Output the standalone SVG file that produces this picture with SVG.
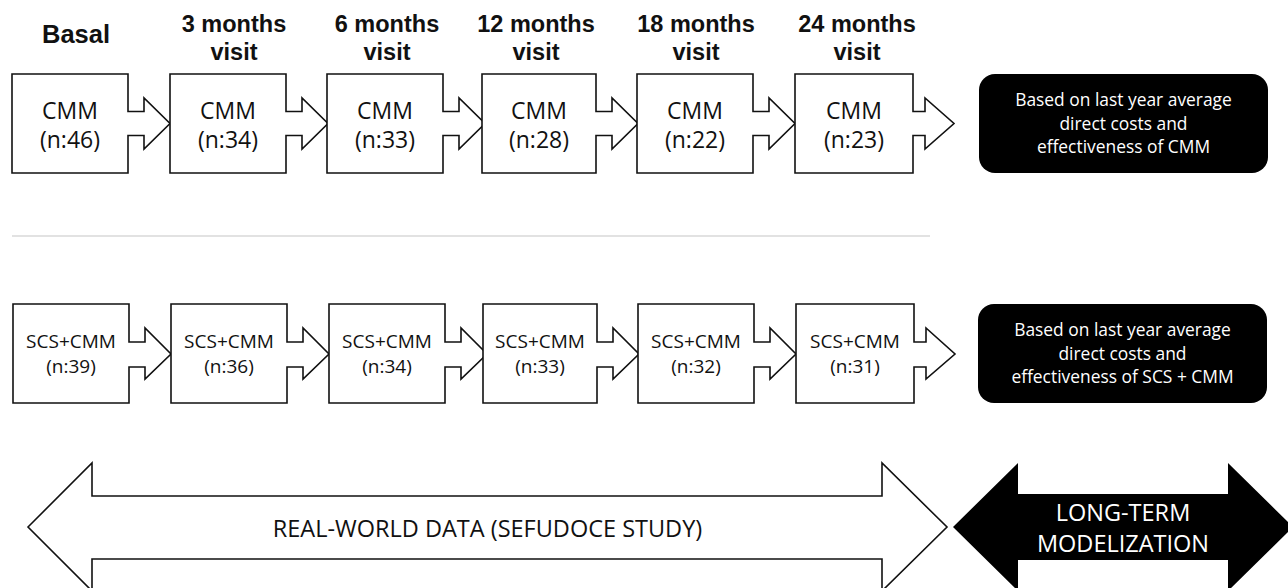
<svg xmlns="http://www.w3.org/2000/svg" width="1288" height="588" viewBox="0 0 1288 588">
<style>
.hdr{font-family:"Liberation Sans",Arial,sans-serif;font-weight:bold;font-size:23.5px;fill:#111;text-anchor:middle}
.box{fill:#fff;stroke:#111;stroke-width:1.6;stroke-linejoin:miter}
.t1{font-family:"Open Sans","Noto Sans",sans-serif;font-size:23px;fill:#111;text-anchor:middle}
.t2{font-family:"Open Sans","Noto Sans",sans-serif;font-size:19px;fill:#111;text-anchor:middle}
.blk{fill:#000}
.wt{font-family:"Open Sans","Noto Sans",sans-serif;font-size:17.4px;fill:#fff;text-anchor:middle}
.big{font-family:"Open Sans","Noto Sans",sans-serif;font-size:23.5px;text-anchor:middle}
</style>
<g id="headers">
<text class="hdr" x="76" y="43" style="font-size:25.5px">Basal</text>
<text class="hdr" x="234" y="32">3 months</text><text class="hdr" x="234" y="60">visit</text>
<text class="hdr" x="387" y="32">6 months</text><text class="hdr" x="387" y="60">visit</text>
<text class="hdr" x="536" y="32">12 months</text><text class="hdr" x="536" y="60">visit</text>
<text class="hdr" x="696" y="32">18 months</text><text class="hdr" x="696" y="60">visit</text>
<text class="hdr" x="857" y="32">24 months</text><text class="hdr" x="857" y="60">visit</text>
</g>
<g id="separator"><line x1="12" y1="236" x2="930" y2="236" stroke="#d9d9d9" stroke-width="1.5"/></g>
<g id="row1">
<g id="cmm-basal"><path class="box" d="M12,74 H128 V111.5 H144 V98 L170,123.5 L144,149 V135.5 H128 V173 H12 Z"/><text class="t1" x="70" y="119">CMM</text><text class="t1" x="70" y="148">(n:46)</text></g>
<g id="cmm-3"><path class="box" d="M170,74 H286 V111.5 H302 V98 L328,123.5 L302,149 V135.5 H286 V173 H170 Z"/><text class="t1" x="228" y="119">CMM</text><text class="t1" x="228" y="148">(n:34)</text></g>
<g id="cmm-6"><path class="box" d="M327,74 H443 V111.5 H459 V98 L485,123.5 L459,149 V135.5 H443 V173 H327 Z"/><text class="t1" x="385" y="119">CMM</text><text class="t1" x="385" y="148">(n:33)</text></g>
<g id="cmm-12"><path class="box" d="M482,74 H596 V111.5 H612 V98 L638,123.5 L612,149 V135.5 H596 V173 H482 Z"/><text class="t1" x="539" y="119">CMM</text><text class="t1" x="539" y="148">(n:28)</text></g>
<g id="cmm-18"><path class="box" d="M637,74 H753 V111.5 H769 V98 L795,123.5 L769,149 V135.5 H753 V173 H637 Z"/><text class="t1" x="695" y="119">CMM</text><text class="t1" x="695" y="148">(n:22)</text></g>
<g id="cmm-24"><path class="box" d="M795,74 H913 V111.5 H925 V98 L954,123.5 L925,149 V135.5 H913 V173 H795 Z"/><text class="t1" x="854" y="119">CMM</text><text class="t1" x="854" y="148">(n:23)</text></g>
<g id="cmm-model"><rect class="blk" x="979" y="74" width="289" height="99" rx="16"/><text class="wt" x="1123.5" y="106">Based on last year average</text><text class="wt" x="1123.5" y="129.5">direct costs and</text><text class="wt" x="1123.5" y="153">effectiveness of CMM</text></g>
</g>
<g id="row2">
<g id="scs-basal"><path class="box" d="M13,304 H129 V342 H145 V328 L171,354 L145,379 V367 H129 V403 H13 Z"/><text class="t2" x="71" y="348">SCS+CMM</text><text class="t2" x="71" y="373">(n:39)</text></g>
<g id="scs-3"><path class="box" d="M171,304 H287 V342 H303 V328 L329,354 L303,379 V367 H287 V403 H171 Z"/><text class="t2" x="229" y="348">SCS+CMM</text><text class="t2" x="229" y="373">(n:36)</text></g>
<g id="scs-6"><path class="box" d="M329,304 H445 V342 H461 V328 L487,354 L461,379 V367 H445 V403 H329 Z"/><text class="t2" x="387" y="348">SCS+CMM</text><text class="t2" x="387" y="373">(n:34)</text></g>
<g id="scs-12"><path class="box" d="M483,304 H597 V342 H613 V328 L639,354 L613,379 V367 H597 V403 H483 Z"/><text class="t2" x="540" y="348">SCS+CMM</text><text class="t2" x="540" y="373">(n:33)</text></g>
<g id="scs-18"><path class="box" d="M638,304 H754 V342 H770 V328 L796,354 L770,379 V367 H754 V403 H638 Z"/><text class="t2" x="696" y="348">SCS+CMM</text><text class="t2" x="696" y="373">(n:32)</text></g>
<g id="scs-24"><path class="box" d="M796,304 H914 V342 H926 V328 L955,354 L926,379 V367 H914 V403 H796 Z"/><text class="t2" x="855" y="348">SCS+CMM</text><text class="t2" x="855" y="373">(n:31)</text></g>
<g id="scs-model"><rect class="blk" x="978" y="304" width="289" height="99" rx="16"/><text class="wt" x="1122.5" y="336">Based on last year average</text><text class="wt" x="1122.5" y="359.5">direct costs and</text><text class="wt" x="1122.5" y="383">effectiveness of SCS + CMM</text></g>
</g>
<g id="real-world">
<path class="box" d="M28,527 L92,463 V496 H882 V463 L947,527 L882,591 V559 H92 V591 Z"/>
<text class="big" x="487.5" y="537" fill="#111">REAL-WORLD DATA (SEFUDOCE STUDY)</text>
</g>
<g id="long-term">
<path class="blk" d="M953,527 L1018,463 V494 H1228 V463 L1293,527 L1228,591 V560 H1018 V591 Z"/>
<text class="big" x="1123" y="521" fill="#fff">LONG-TERM</text>
<text class="big" x="1123" y="552" fill="#fff">MODELIZATION</text>
</g>
<g id="connectors"></g>
</svg>
